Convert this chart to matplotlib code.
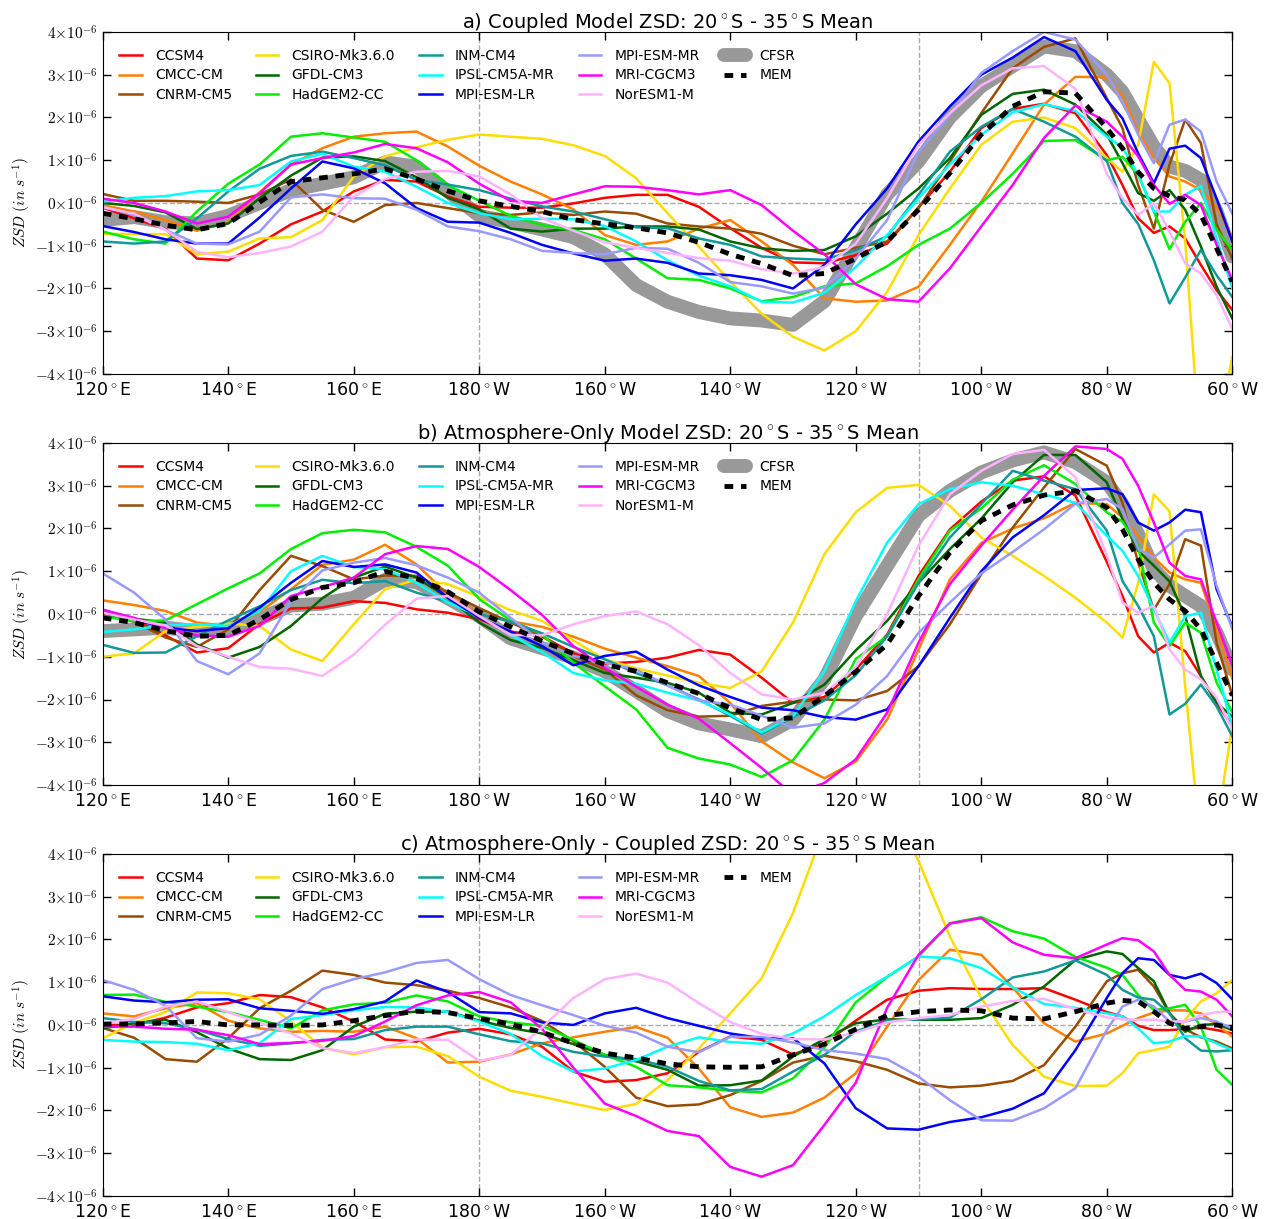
import numpy as np
import matplotlib
matplotlib.use('Agg')
import matplotlib.pyplot as plt
from matplotlib.ticker import FuncFormatter
from matplotlib.lines import Line2D

plt.rcParams['mathtext.fontset'] = 'cm'
plt.rcParams['font.family'] = ['DejaVu Sans']

# longitude grid (degrees east, 0-360)
lon = np.r_[np.arange(120, 281, 5), np.arange(282.5, 300.1, 2.5)]

# ZSD values in units of 1e-6 s^-1
# a) coupled
ccsm4_a = [-0.11,-0.36,-0.61,-1.30,-1.34,-0.95,-0.50,-0.20,0.27,0.54,0.50,0.15,-0.09, -0.11,-0.11,-0.01,0.12,0.19,0.19,-0.09,-0.59,-1.05,-1.39,-1.41,-1.22, -0.95,-0.1,0.73,1.75,2.2,2.32,2.1,1.12, 0.42,-0.36,-0.7,-0.55,-0.83,-1.45,-2.04,-2.5]
cmcc_a = [-0.05,-0.2,-0.4,-0.65,-0.45,0.25,0.9,1.28,1.55,1.63,1.67,1.32,0.87, 0.5,0.2,-0.15,-0.75,-0.98,-0.9,-0.6,-0.4,-0.9,-1.45,-2.23,-2.31, -2.28,-1.96,-0.98,0.03,1.16,2.3,2.95,2.94, 2.5,1.67,1.05,0.62,0.5,0.3,-0.1,-0.8]
cnrm_a = [0.21,0.05,0.05,0.03,0.0,0.2,0.55,-0.16,-0.44,-0.05,0.0,-0.12,-0.24, -0.28,-0.22,-0.28,-0.2,-0.25,-0.48,-0.55,-0.6,-0.72,-1.0,-1.2,-1.05, -0.9,-0.12,0.97,2.1,3.15,3.65,3.85,2.45, 1.75,0.42,-0.6,0.9,1.95,1.4,-0.5,-1.3]
csiro_a = [-0.72,-0.73,-0.73,-1.2,-1.14,-0.83,-0.8,-0.4,0.62,1.09,1.3,1.48,1.6, 1.55,1.5,1.35,1.1,0.58,-0.24,-1.02,-1.84,-2.59,-3.13,-3.45,-3.0, -2.08,-0.75,0.34,1.36,1.9,2.0,1.75,1.05, 0.73,1.36,3.3,2.8,-0.9,-6.0,-5.5,-3.6]
gfdl_a = [0.0,-0.07,-0.22,-0.61,-0.48,0.11,0.64,1.06,1.09,0.98,0.6,0.12,-0.15, -0.6,-0.67,-0.6,-0.6,-0.55,-0.55,-0.62,-0.9,-1.06,-1.12,-1.1,-0.78, -0.25,0.34,1.05,2.06,2.55,2.65,2.3,1.6, 0.93,0.23,0.05,0.3,-0.16,-1.02,-1.96,-2.7]
hadgem_a = [-0.67,-0.85,-0.95,-0.2,0.45,0.9,1.55,1.63,1.53,1.43,1.0,0.42,0.05, -0.3,-0.52,-0.63,-0.85,-1.3,-1.76,-1.8,-2.0,-2.3,-2.2,-1.95,-1.88, -1.48,-0.98,-0.6,0.0,0.68,1.45,1.47,1.0, 1.08,0.66,-0.2,-1.08,-0.44,0.0,-0.63,-1.1]
inm_a = [-0.9,-0.95,-0.9,-0.36,0.27,0.8,1.1,1.2,1.05,0.88,0.54,0.43,0.3, 0.1,-0.08,-0.2,-0.38,-0.57,-0.59,-0.83,-0.98,-1.25,-1.3,-1.33,-1.1, -0.78,0.19,1.2,1.78,2.2,1.9,1.55,0.98, 0.0,-0.49,-1.34,-2.35,-1.74,-1.1,-1.69,-2.2]
ipsl_a = [0.03,0.12,0.16,0.27,0.3,0.42,0.97,1.15,0.85,0.73,0.38,0.0,-0.24, -0.38,-0.37,-0.38,-0.54,-0.9,-1.34,-1.7,-1.95,-2.31,-2.33,-2.1,-1.5, -0.75,0.11,0.9,1.6,2.12,2.31,2.15,1.55, 1.3,0.66,-0.2,-0.2,0.19,0.4,-0.83,-2.0]
mpilr_a = [-0.54,-0.68,-0.85,-0.95,-0.95,-0.34,0.34,0.97,0.81,0.46,-0.12,-0.44,-0.46, -0.7,-0.98,-1.18,-1.35,-1.3,-1.4,-1.65,-1.69,-1.8,-2.0,-1.45,-0.5, 0.34,1.44,2.26,3.0,3.4,3.88,3.55,2.41, 1.98,1.16,0.46,1.27,1.34,1.05,0.1,-0.9]
mpimr_a = [-0.09,-0.28,-0.63,-0.95,-0.97,-0.67,0.13,0.2,0.11,0.1,-0.16,-0.55,-0.66, -0.85,-1.12,-1.17,-1.2,-1.05,-1.07,-1.4,-1.85,-1.95,-2.12,-1.98,-1.3, -0.4,1.2,2.06,3.04,3.55,4.0,3.82,3.0, 2.37,1.6,0.93,1.83,1.95,1.67,0.5,-0.25]
mri_a = [0.1,0.0,-0.2,-0.48,-0.32,0.23,0.9,1.05,1.18,1.38,1.28,0.95,0.45, 0.05,0.0,0.2,0.39,0.38,0.3,0.2,0.3,-0.05,-0.65,-1.2,-1.9, -2.25,-2.31,-1.53,-0.55,0.42,1.52,2.28,1.9, 1.55,1.09,0.42,-0.02,0.19,-0.05,-0.98,-1.8]
nor_a = [-0.1,-0.25,-0.63,-1.14,-1.27,-1.17,-1.02,-0.67,0.15,0.56,0.73,0.75,0.62, 0.2,-0.35,-0.65,-0.92,-1.05,-1.17,-1.29,-1.35,-1.55,-1.65,-1.5,-0.95, 0.11,1.36,2.1,2.75,3.15,3.2,2.67,0.68, 0.11,-0.28,0.0,-0.67,-1.41,-1.65,-2.16,-2.94]
cfsr_a = [-0.4,-0.33,-0.45,-0.48,-0.3,0.0,0.3,0.45,0.6,0.95,0.85,0.27,-0.3, -0.45,-0.62,-0.8,-1.2,-1.92,-2.31,-2.55,-2.7,-2.75,-2.85,-2.3,-1.05, 0.2,0.97,2.0,2.73,3.2,3.66,3.55,3.0, 2.6,1.95,1.32,0.85,0.75,0.54,-0.2,-1.25]
mem_a = [-0.24,-0.37,-0.52,-0.63,-0.48,0.02,0.5,0.59,0.68,0.8,0.56,0.28,0.05, -0.08,-0.2,-0.39,-0.49,-0.58,-0.7,-0.92,-1.2,-1.42,-1.7,-1.65,-1.3, -0.9,-0.16,0.7,1.6,2.26,2.6,2.57,1.75, 1.28,0.72,0.34,0.16,0.07,-0.28,-1.06,-1.84]

# b) atmosphere-only
ccsm4_b = [0.03,-0.13,-0.5,-0.9,-0.8,-0.23,0.13,0.15,0.3,0.26,0.11,0.03,-0.12, -0.41,-0.52,-0.92,-1.16,-1.12,-1.02,-0.84,-0.95,-1.49,-2.08,-1.94,-1.3, -0.48,0.89,1.98,2.63,3.12,3.22,2.77,1.22, 0.42,-0.52,-0.9,-0.67,-0.87,-1.45,-2.08,-2.62]
cmcc_b = [0.32,0.21,0.07,-0.2,-0.28,0.05,0.58,1.15,1.27,1.62,1.16,0.45,0.0, -0.17,-0.3,-0.53,-0.81,-1.02,-1.22,-1.45,-2.08,-2.98,-3.47,-3.84,-3.45, -2.47,-0.83,0.81,1.66,2.0,2.24,2.6,2.57, 2.26,1.83,1.32,0.97,0.81,0.73,-0.36,-1.5]
cnrm_b = [0.03,-0.18,-0.55,-0.77,-0.36,0.56,1.36,1.12,0.81,0.9,0.89,0.5,0.14, -0.2,-0.52,-0.98,-1.3,-1.9,-2.25,-2.4,-2.38,-2.15,-2.05,-2.0,-2.02, -1.8,-1.22,-0.24,0.93,2.02,2.96,3.86,3.47, 2.6,1.2,0.1,0.7,1.75,1.6,-0.67,-1.9]
csiro_b = [-1.0,-0.92,-0.4,-0.3,-0.22,-0.28,-0.83,-1.1,-0.24,0.58,0.81,0.7,0.4, 0.09,-0.16,-0.62,-1.06,-1.27,-1.44,-1.61,-1.73,-1.34,-0.2,1.4,2.38, 2.95,3.02,2.53,1.79,1.36,0.89,0.38,-0.2, -0.55,0.73,2.8,2.4,-1.7,-5.5,-5.0,-2.6]
gfdl_b = [-0.05,-0.11,-0.2,-0.71,-1.02,-0.77,-0.28,0.37,0.85,1.11,0.85,0.38,-0.2, -0.61,-0.79,-1.08,-1.38,-1.49,-1.61,-1.84,-2.31,-2.35,-2.08,-1.65,-0.85, -0.16,0.73,1.52,2.23,3.08,3.72,3.72,3.08, 2.22,1.48,1.13,0.76,-0.05,-1.45,-2.08,-2.4]
hadgem_b = [-0.05,-0.17,-0.15,0.23,0.6,0.95,1.52,1.89,1.97,1.91,1.57,1.13,0.35, -0.15,-0.48,-1.14,-1.69,-2.23,-3.13,-3.38,-3.52,-3.81,-3.42,-2.47,-1.05, -0.52,0.81,1.95,2.47,3.14,3.48,3.04,2.38, 2.16,1.6,-0.2,-0.75,-0.2,-0.44,-1.6,-2.3]
inm_b = [-0.72,-0.91,-0.9,-0.52,-0.15,0.18,0.56,0.8,0.72,0.77,0.5,0.29,0.0, -0.18,-0.45,-0.77,-1.06,-1.38,-1.67,-2.0,-2.38,-2.8,-2.41,-2.02,-1.43, -0.52,0.73,1.79,2.57,3.35,3.12,2.92,1.95, 0.77,0.19,-0.52,-2.35,-2.1,-1.65,-2.16,-2.86]
ipsl_b = [-0.42,-0.36,-0.26,-0.24,-0.28,0.07,1.0,1.36,1.1,1.05,0.73,0.27,-0.05, -0.49,-0.89,-1.38,-1.55,-1.63,-1.84,-2.02,-2.35,-2.77,-2.39,-1.34,0.3, 1.67,2.57,2.92,3.08,3.0,2.8,2.6,1.83, 1.48,0.89,0.11,-0.67,-0.05,0.03,-1.3,-2.62]
mpilr_b = [0.1,-0.13,-0.32,-0.4,-0.33,0.15,0.73,1.24,1.1,1.16,0.97,0.38,-0.09, -0.41,-0.75,-1.2,-0.98,-0.88,-1.3,-1.67,-1.94,-2.19,-2.25,-2.41,-2.47, -2.23,-1.22,-0.09,1.0,1.79,2.31,2.9,2.94, 2.8,2.14,1.95,2.14,2.44,2.38,0.58,-0.3]
mpimr_b = [0.95,0.5,-0.13,-1.1,-1.41,-0.92,0.3,1.02,1.2,1.31,1.14,0.85,0.5, -0.09,-0.66,-0.98,-1.14,-1.3,-1.67,-2.02,-2.12,-2.38,-2.66,-2.56,-2.12, -1.45,-0.44,0.27,0.95,1.45,1.98,2.58,2.69, 2.45,1.52,1.32,1.63,1.95,1.98,0.66,-0.35]
mri_b = [0.1,-0.09,-0.33,-0.5,-0.53,-0.28,0.42,0.63,0.85,1.4,1.59,1.52,1.1, 0.56,-0.02,-0.75,-1.26,-1.7,-2.12,-2.45,-3.02,-3.6,-4.23,-3.95,-3.4, -2.31,-0.67,0.7,1.6,2.44,3.23,3.92,3.86, 3.63,3.0,2.14,1.2,0.89,0.81,-0.2,-1.2]
nor_b = [0.03,-0.13,-0.27,-0.75,-1.0,-1.24,-1.28,-1.45,-0.95,-0.25,0.36,0.42,-0.05, -0.49,-0.5,-0.24,-0.05,0.06,-0.24,-0.73,-1.38,-1.88,-2.0,-1.84,-1.25, 0.0,1.6,2.8,3.35,3.74,3.84,3.2,1.38, 0.27,0.03,0.19,-0.83,-1.3,-1.53,-1.96,-2.7]
cfsr_b = [-0.4,-0.36,-0.32,-0.4,-0.35,-0.11,0.2,0.24,0.38,0.8,0.75,0.37,-0.05, -0.57,-0.8,-1.02,-1.34,-1.8,-2.27,-2.56,-2.7,-2.86,-2.47,-1.53,-0.05, 1.13,2.3,2.88,3.31,3.59,3.78,3.55,3.08, 2.57,1.87,1.05,0.66,0.42,0.19,-0.44,-1.3]
mem_b = [-0.09,-0.2,-0.39,-0.52,-0.5,-0.13,0.34,0.62,0.73,1.0,0.83,0.52,0.05, -0.3,-0.63,-0.93,-1.18,-1.34,-1.61,-1.86,-2.2,-2.47,-2.43,-1.92,-1.35, -0.71,0.42,1.44,2.18,2.55,2.78,2.88,2.49, 1.98,1.28,0.73,0.34,0.07,-0.36,-1.14,-1.9]

# c) atmosphere-only minus coupled
ccsm4_c = [0.0,0.0,0.17,0.41,0.51,0.7,0.65,0.41,0.08,-0.34,-0.39,-0.18,-0.09, -0.22,-0.51,-1.09,-1.33,-1.29,-1.13,-0.63,-0.27,-0.35,-0.69,-0.43,0.1, 0.59,0.8,0.86,0.84,0.84,0.86,0.59,0.3, 0.2,-0.02,-0.12,-0.12,-0.1,-0.06,-0.12,-0.2]
cmcc_c = [0.27,0.2,0.39,0.51,0.1,-0.08,-0.16,-0.14,-0.16,-0.04,-0.31,-0.88,-0.86, -0.69,-0.43,-0.29,-0.16,-0.05,-0.3,-1.02,-1.93,-2.15,-2.05,-1.7,-1.13, -0.04,1.05,1.76,1.64,0.88,0.04,-0.39,-0.2, -0.02,0.16,0.29,0.34,0.34,0.27,0.0,-0.27]
cnrm_c = [-0.07,-0.3,-0.8,-0.86,-0.31,0.39,0.8,1.27,1.17,0.99,0.93,0.8,0.63, 0.41,0.09,-0.38,-0.98,-1.7,-1.9,-1.86,-1.64,-1.31,-0.88,-0.72,-0.85, -1.05,-1.37,-1.46,-1.42,-1.31,-0.94,-0.04,1.02, 1.21,1.29,0.9,0.27,-0.1,-0.29,-0.39,-0.55]
csiro_c = [-0.31,0.05,0.3,0.76,0.74,0.6,0.08,-0.53,-0.69,-0.52,-0.51,-0.73,-1.21, -1.54,-1.68,-1.84,-1.99,-1.85,-1.29,-0.55,0.27,1.09,2.62,4.6,6.0, 5.3,3.83,2.07,0.63,-0.47,-1.21,-1.43,-1.42, -1.13,-0.66,-0.59,-0.51,0.12,0.55,0.74,1.05]
gfdl_c = [-0.08,0.04,0.12,-0.17,-0.55,-0.8,-0.82,-0.59,-0.04,0.26,0.31,0.31,0.1, -0.07,-0.2,-0.45,-0.7,-0.85,-1.05,-1.42,-1.41,-1.3,-0.74,-0.33,0.04, 0.13,0.12,0.12,0.16,0.47,0.9,1.52,1.72, 1.66,1.33,1.02,0.27,-0.16,0.0,0.02,-0.12]
hadgem_c = [0.7,0.71,0.54,0.43,0.3,0.12,-0.08,0.34,0.48,0.52,0.69,0.55,0.2, 0.06,-0.02,-0.35,-0.7,-0.98,-1.41,-1.46,-1.54,-1.58,-1.25,-0.53,0.53, 1.12,1.6,2.38,2.52,2.19,2.02,1.59,1.34, 1.17,0.7,0.35,0.39,0.47,-0.04,-1.05,-1.4]
inm_c = [0.16,0.07,0.04,-0.11,-0.33,-0.49,-0.43,-0.35,-0.33,-0.12,-0.04,-0.04,-0.22, -0.38,-0.43,-0.63,-0.74,-0.8,-0.98,-1.31,-1.53,-1.5,-1.09,-0.7,-0.15, 0.1,0.13,0.17,0.6,1.11,1.25,1.51,1.17, 0.82,0.64,0.59,0.27,-0.31,-0.6,-0.62,-0.59]
ipsl_c = [-0.35,-0.39,-0.4,-0.44,-0.59,-0.43,0.14,0.23,0.34,0.42,0.41,0.3,0.08, -0.21,-0.73,-1.09,-1.02,-0.82,-0.51,-0.29,-0.4,-0.44,-0.2,0.2,0.7, 1.13,1.6,1.56,1.33,0.88,0.49,0.4,0.27, 0.2,-0.08,-0.43,-0.39,-0.26,-0.27,-0.43,-0.59]
mpilr_c = [0.67,0.57,0.53,0.59,0.6,0.39,0.33,0.26,0.37,0.55,1.04,0.77,0.3, 0.27,0.06,0.0,0.27,0.4,0.16,-0.02,-0.2,-0.31,-0.31,-0.9,-1.95, -2.42,-2.45,-2.27,-2.16,-1.96,-1.6,-0.59,0.63, 1.21,1.56,1.52,1.17,1.09,1.2,0.98,0.6]
mpimr_c = [1.05,0.82,0.45,-0.31,-0.39,-0.23,0.22,0.84,1.07,1.23,1.45,1.52,1.07, 0.7,0.46,0.23,-0.02,-0.18,-0.51,-0.64,-0.28,-0.28,-0.41,-0.59,-0.67, -0.8,-1.21,-1.76,-2.23,-2.24,-1.95,-1.48,-0.12, 0.43,0.59,0.43,0.08,0.08,0.16,0.08,-0.08]
mri_c = [-0.04,-0.04,-0.09,-0.11,-0.24,-0.45,-0.42,-0.37,-0.26,0.08,0.46,0.69,0.77, 0.53,-0.09,-1.0,-1.84,-2.13,-2.48,-2.6,-3.32,-3.55,-3.28,-2.34,-1.35, 0.4,1.64,2.37,2.5,1.93,1.64,1.56,1.88, 2.03,1.98,1.72,1.17,0.82,0.78,0.59,0.2]
nor_c = [0.04,0.14,0.43,0.55,0.3,0.05,-0.2,-0.54,-0.66,-0.52,-0.34,-0.35,-0.84, -0.7,-0.06,0.63,1.07,1.2,0.99,0.51,0.07,-0.21,-0.33,-0.34,-0.18, 0.06,0.16,0.23,0.43,0.56,0.61,0.37,0.18, 0.13,0.12,0.12,0.08,0.08,0.23,0.3,0.31]
mem_c = [0.02,0.02,0.05,0.08,0.0,0.0,-0.01,0.0,0.1,0.22,0.32,0.29,0.15, 0.02,-0.17,-0.43,-0.66,-0.77,-0.91,-0.98,-0.99,-0.98,-0.7,-0.45,-0.1, 0.22,0.31,0.35,0.33,0.16,0.14,0.31,0.51, 0.57,0.55,0.31,0.04,-0.08,-0.04,0.0,-0.08]

models = ['CCSM4', 'CMCC-CM', 'CNRM-CM5', 'CSIRO-Mk3.6.0', 'GFDL-CM3', 'HadGEM2-CC',
          'INM-CM4', 'IPSL-CM5A-MR', 'MPI-ESM-LR', 'MPI-ESM-MR', 'MRI-CGCM3', 'NorESM1-M']
colors = ['#ff0000', '#ff8000', '#994c00', '#ffdd00', '#006600', '#00ee00',
          '#119999', '#00ffff', '#0000ff', '#9999ff', '#ff00ff', '#ffb3ff']

deg = '$^\\circ$'
panels = [
    ('a) Coupled Model ZSD: 20' + deg + 'S - 35' + deg + 'S Mean',
     [ccsm4_a, cmcc_a, cnrm_a, csiro_a, gfdl_a, hadgem_a, inm_a, ipsl_a, mpilr_a, mpimr_a, mri_a, nor_a],
     cfsr_a, mem_a),
    ('b) Atmosphere-Only Model ZSD: 20' + deg + 'S - 35' + deg + 'S Mean',
     [ccsm4_b, cmcc_b, cnrm_b, csiro_b, gfdl_b, hadgem_b, inm_b, ipsl_b, mpilr_b, mpimr_b, mri_b, nor_b],
     cfsr_b, mem_b),
    ('c) Atmosphere-Only - Coupled ZSD: 20' + deg + 'S - 35' + deg + 'S Mean',
     [ccsm4_c, cmcc_c, cnrm_c, csiro_c, gfdl_c, hadgem_c, inm_c, ipsl_c, mpilr_c, mpimr_c, mri_c, nor_c],
     None, mem_c),
]

xticks = np.arange(120, 301, 20)
xlabels = ['120' + deg + 'E', '140' + deg + 'E', '160' + deg + 'E', '180' + deg + 'W',
           '160' + deg + 'W', '140' + deg + 'W', '120' + deg + 'W', '100' + deg + 'W',
           '80' + deg + 'W', '60' + deg + 'W']

fig = plt.figure(figsize=(12.67, 12.19), dpi=100)
bottoms = [0.6932, 0.356, 0.0189]

for (title, series, cfsr, mem), bot in zip(panels, bottoms):
    ax = fig.add_axes([0.0811, bot, 0.8915, 0.2806])
    ax.axhline(0, color='#aaaaaa', ls='--', lw=1, zorder=0)
    ax.axvline(180, color='#aaaaaa', ls='--', lw=1, zorder=0)
    ax.axvline(250, color='#aaaaaa', ls='--', lw=1, zorder=0)

    handles = []
    cf = None
    if cfsr is not None:
        cf, = ax.plot(lon, np.array(cfsr) * 1e-6, color='#999999', lw=10,
                      solid_capstyle='round', solid_joinstyle='round', label='CFSR', zorder=1)
    for name, col, y in zip(models, colors, series):
        h, = ax.plot(lon, np.array(y) * 1e-6, color=col, lw=1.8, label=name, zorder=2)
        handles.append(h)
    mm, = ax.plot(lon, np.array(mem) * 1e-6, color='k', lw=3.5, dashes=(1.8, 1.6),
                  label='MEM', zorder=3)
    if cf is not None:
        handles += [cf, mm]
    else:
        handles += [mm, Line2D([], [], color='none', label=' ')]

    ax.legend(handles=handles, loc='upper left', ncol=5, frameon=False, fontsize=10,
              handlelength=1.6, handletextpad=0.95, columnspacing=1.75, labelspacing=0.42,
              borderaxespad=0.8)

    ax.set_xlim(120, 300)
    ax.set_ylim(-4e-6, 4e-6)
    ax.set_xticks(xticks)
    ax.set_xticklabels(xlabels)
    ax.set_yticks(np.arange(-4, 5) * 1e-6)
    ax.yaxis.set_major_formatter(FuncFormatter(lambda v, p: r'$%d{\times}10^{-6}$' % round(v * 1e6)))
    ax.tick_params(direction='in', top=True, right=True, length=6, width=1)
    ax.tick_params(axis='y', labelsize=11)
    ax.tick_params(axis='x', labelsize=12.5, pad=5)
    ax.set_ylabel(r'$ZSD\ (in\ s^{-1})$', fontsize=11, labelpad=2)
    ax.set_title(title, fontsize=14, pad=3)

fig.savefig('out.png', dpi=100)
